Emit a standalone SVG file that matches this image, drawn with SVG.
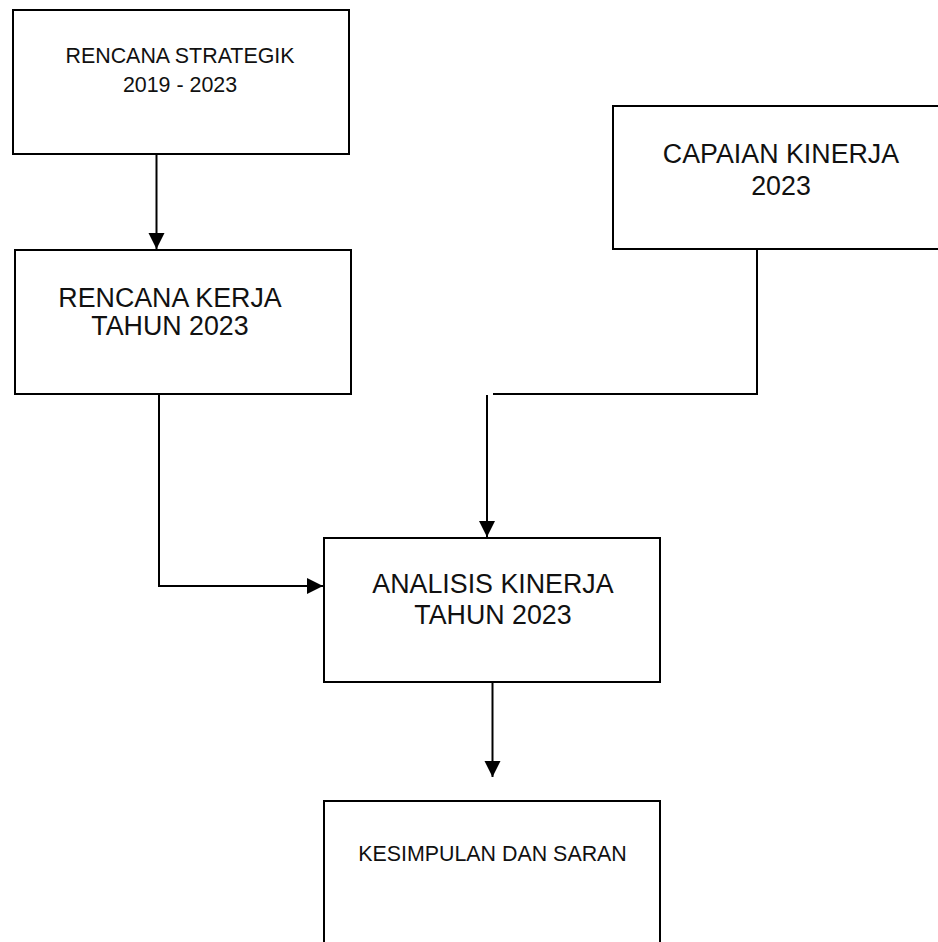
<svg xmlns="http://www.w3.org/2000/svg" width="938" height="942" viewBox="0 0 938 942">
<style>
  .box { fill: #ffffff; stroke: #000000; stroke-width: 2; }
  .lbl { font-family: "Liberation Sans", Arial, sans-serif; fill: #111111; text-anchor: middle; }
  .sm { font-size: 21.4px; }
  .lg { font-size: 26.8px; }
  .conn { fill: none; stroke: #000000; stroke-width: 2; }
</style>
<defs>
  <marker id="arr" markerUnits="userSpaceOnUse" markerWidth="17" markerHeight="17" refX="16" refY="8" orient="auto">
    <path d="M0,0 L16,8 L0,16 z" fill="#000000"/>
  </marker>
</defs>
<rect width="938" height="942" fill="#ffffff"/>
<g id="renstra">
  <rect class="box" x="13" y="10" width="336" height="144"/>
  <text class="lbl sm" x="180" y="63">RENCANA STRATEGIK</text>
  <text class="lbl sm" x="180" y="92">2019 - 2023</text>
</g>
<g id="capaian">
  <rect class="box" x="613" y="106" width="340" height="143"/>
  <text class="lbl lg" x="781" y="163">CAPAIAN KINERJA</text>
  <text class="lbl lg" x="781" y="195">2023</text>
</g>
<g id="renja">
  <rect class="box" x="15" y="250" width="336" height="144"/>
  <text class="lbl lg" x="170" y="307">RENCANA KERJA</text>
  <text class="lbl lg" x="170" y="335">TAHUN 2023</text>
</g>
<g id="analisis">
  <rect class="box" x="324" y="538" width="336" height="144"/>
  <text class="lbl lg" x="493" y="593">ANALISIS KINERJA</text>
  <text class="lbl lg" x="493" y="624">TAHUN 2023</text>
</g>
<g id="kesimpulan">
  <rect class="box" x="324" y="801" width="336" height="160"/>
  <text class="lbl sm" x="492.5" y="861">KESIMPULAN DAN SARAN</text>
</g>
<g id="connectors">
  <path class="conn" d="M156.5,154 V249" marker-end="url(#arr)"/>
  <path class="conn" d="M159,394 V586 H323" marker-end="url(#arr)"/>
  <path class="conn" d="M757,249 V394 H493"/>
  <path class="conn" d="M487,395 V537" marker-end="url(#arr)"/>
  <path class="conn" d="M492.5,682 V777" marker-end="url(#arr)"/>
</g>
</svg>
